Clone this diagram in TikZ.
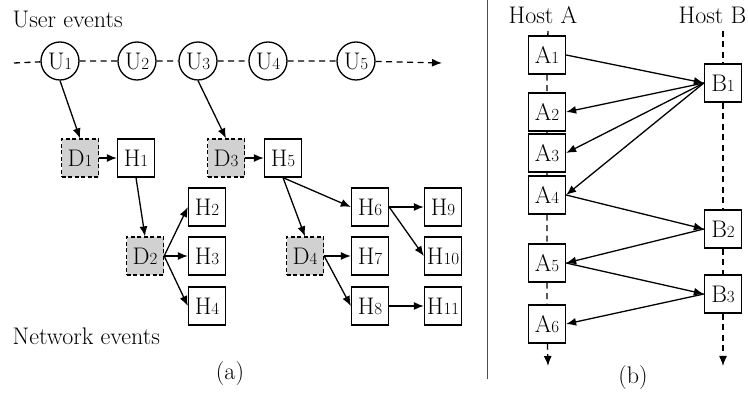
\documentclass[tikz,border=0pt]{standalone}
\usetikzlibrary{arrows.meta}
\newcommand{\nm}[2]{#1{\fontsize{17}{20}\selectfont #2}}
\begin{document}
\begin{tikzpicture}[x=1pt,y=-1pt,
  every node/.style={font=\fontsize{24}{28}\selectfont},
  line width=1.3pt,
  arr/.style={-{Latex[length=10pt,width=8pt]}},
  ubox/.style={circle,draw,fill=white,minimum size=38pt,inner sep=0pt},
  hbox/.style={draw,fill=white,minimum width=37pt,minimum height=38pt,inner sep=0pt},
  dbox/.style={hbox,dash pattern=on 4pt off 2.5pt,fill=black!18},
  axis/.style={dash pattern=on 6pt off 4.5pt}]
\useasboundingbox (0,0) rectangle (748,395);
% (a)
\node[anchor=base west,inner sep=0] (ue) at (12,28) {User events};
\node[anchor=base west,inner sep=0] (ne) at (12,345) {Network events};
\node (la) at (230,374) {(a)};
\coordinate (us) at (14,63);
\coordinate (uend) at (442,63);
\node[ubox] (U1) at (60,61) {\nm{U}{1}};
\node[ubox] (U2) at (137,61) {\nm{U}{2}};
\node[ubox] (U3) at (198,61) {\nm{U}{3}};
\node[ubox] (U4) at (268,61) {\nm{U}{4}};
\node[ubox] (U5) at (356,61) {\nm{U}{5}};
\draw[axis,arr] (us) -- (U1) -- (U2) -- (U3) -- (U4) -- (U5) -- (uend);
\node[dbox] (D1) at (80,158) {\nm{D}{1}};
\node[hbox] (H1) at (136,158) {\nm{H}{1}};
\node[dbox] (D3) at (226,158) {\nm{D}{3}};
\node[hbox] (H5) at (283,158) {\nm{H}{5}};
\node[hbox] (H2) at (207,207) {\nm{H}{2}};
\node[dbox] (D2) at (145,256) {\nm{D}{2}};
\node[hbox] (H3) at (207,256) {\nm{H}{3}};
\node[hbox] (H4) at (207,306) {\nm{H}{4}};
\node[hbox] (H6) at (370,207) {\nm{H}{6}};
\node[hbox] (H9) at (443,207) {\nm{H}{9}};
\node[dbox] (D4) at (305,256) {\nm{D}{4}};
\node[hbox] (H7) at (370,256) {\nm{H}{7}};
\node[hbox] (H10) at (443,256) {\nm{H}{10}};
\node[hbox] (H8) at (370,306) {\nm{H}{8}};
\node[hbox] (H11) at (443,306) {\nm{H}{11}};
\draw[arr] (U1.south) -- (D1.north);
\draw[arr] (U3.south) -- (D3.north);
\draw[arr] (D1) -- (H1);
\draw[arr] (D3) -- (H5);
\draw[arr] (H1.south) -- (D2.north);
\draw[arr] (D2.east) -- (H2.west);
\draw[arr] (D2.east) -- (H3.west);
\draw[arr] (D2.east) -- (H4.west);
\draw[arr] (H5.south) -- (H6.west);
\draw[arr] (H5.south) -- (D4.north);
\draw[arr] (H6.east) -- (H9.west);
\draw[arr] (H6.east) -- (H10.west);
\draw[arr] (D4.east) -- (H7.west);
\draw[arr] (D4.east) -- (H8.west);
\draw[arr] (H8.east) -- (H11.west);
% separator
\coordinate (st) at (488.5,0);
\coordinate (sb) at (488.5,379);
\draw[line width=0.8pt,double,double distance=2pt,draw=black!70] (st) -- (sb);
% (b)
\node (hA) at (543,15) {Host A};
\node[anchor=east,inner xsep=0pt] (hB) at (747,15) {Host B};
\node (lb) at (633,378) {(b)};
\coordinate (at) at (548,31);
\coordinate (ab) at (548,366);
\coordinate (bt) at (723,31);
\coordinate (bb) at (723,366);
\node[hbox] (A1) at (547,55) {\nm{A}{1}};
\node[hbox] (A2) at (547,112) {\nm{A}{2}};
\node[hbox] (A3) at (547,153) {\nm{A}{3}};
\node[hbox] (A4) at (547,195) {\nm{A}{4}};
\node[hbox] (A5) at (547,263) {\nm{A}{5}};
\node[hbox] (A6) at (547,324) {\nm{A}{6}};
\node[hbox] (B1) at (723,83) {\nm{B}{1}};
\node[hbox] (B2) at (723,229) {\nm{B}{2}};
\node[hbox] (B3) at (723,294) {\nm{B}{3}};
\draw[axis,arr] (at) -- (A1) -- (A2) -- (A3) -- (A4) -- (A5) -- (A6) -- (ab);
\draw[axis,arr] (bt) -- (B1) -- (B2) -- (B3) -- (bb);
\draw[arr] (A1.east) -- (B1.west);
\draw[arr] (B1.west) -- (A2.east);
\draw[arr] (B1.west) -- (A3.east);
\draw[arr] (B1.west) -- (A4.east);
\draw[arr] (A4.east) -- (B2.west);
\draw[arr] (B2.west) -- (A5.east);
\draw[arr] (A5.east) -- (B3.west);
\draw[arr] (B3.west) -- (A6.east);
\end{tikzpicture}
\end{document}
